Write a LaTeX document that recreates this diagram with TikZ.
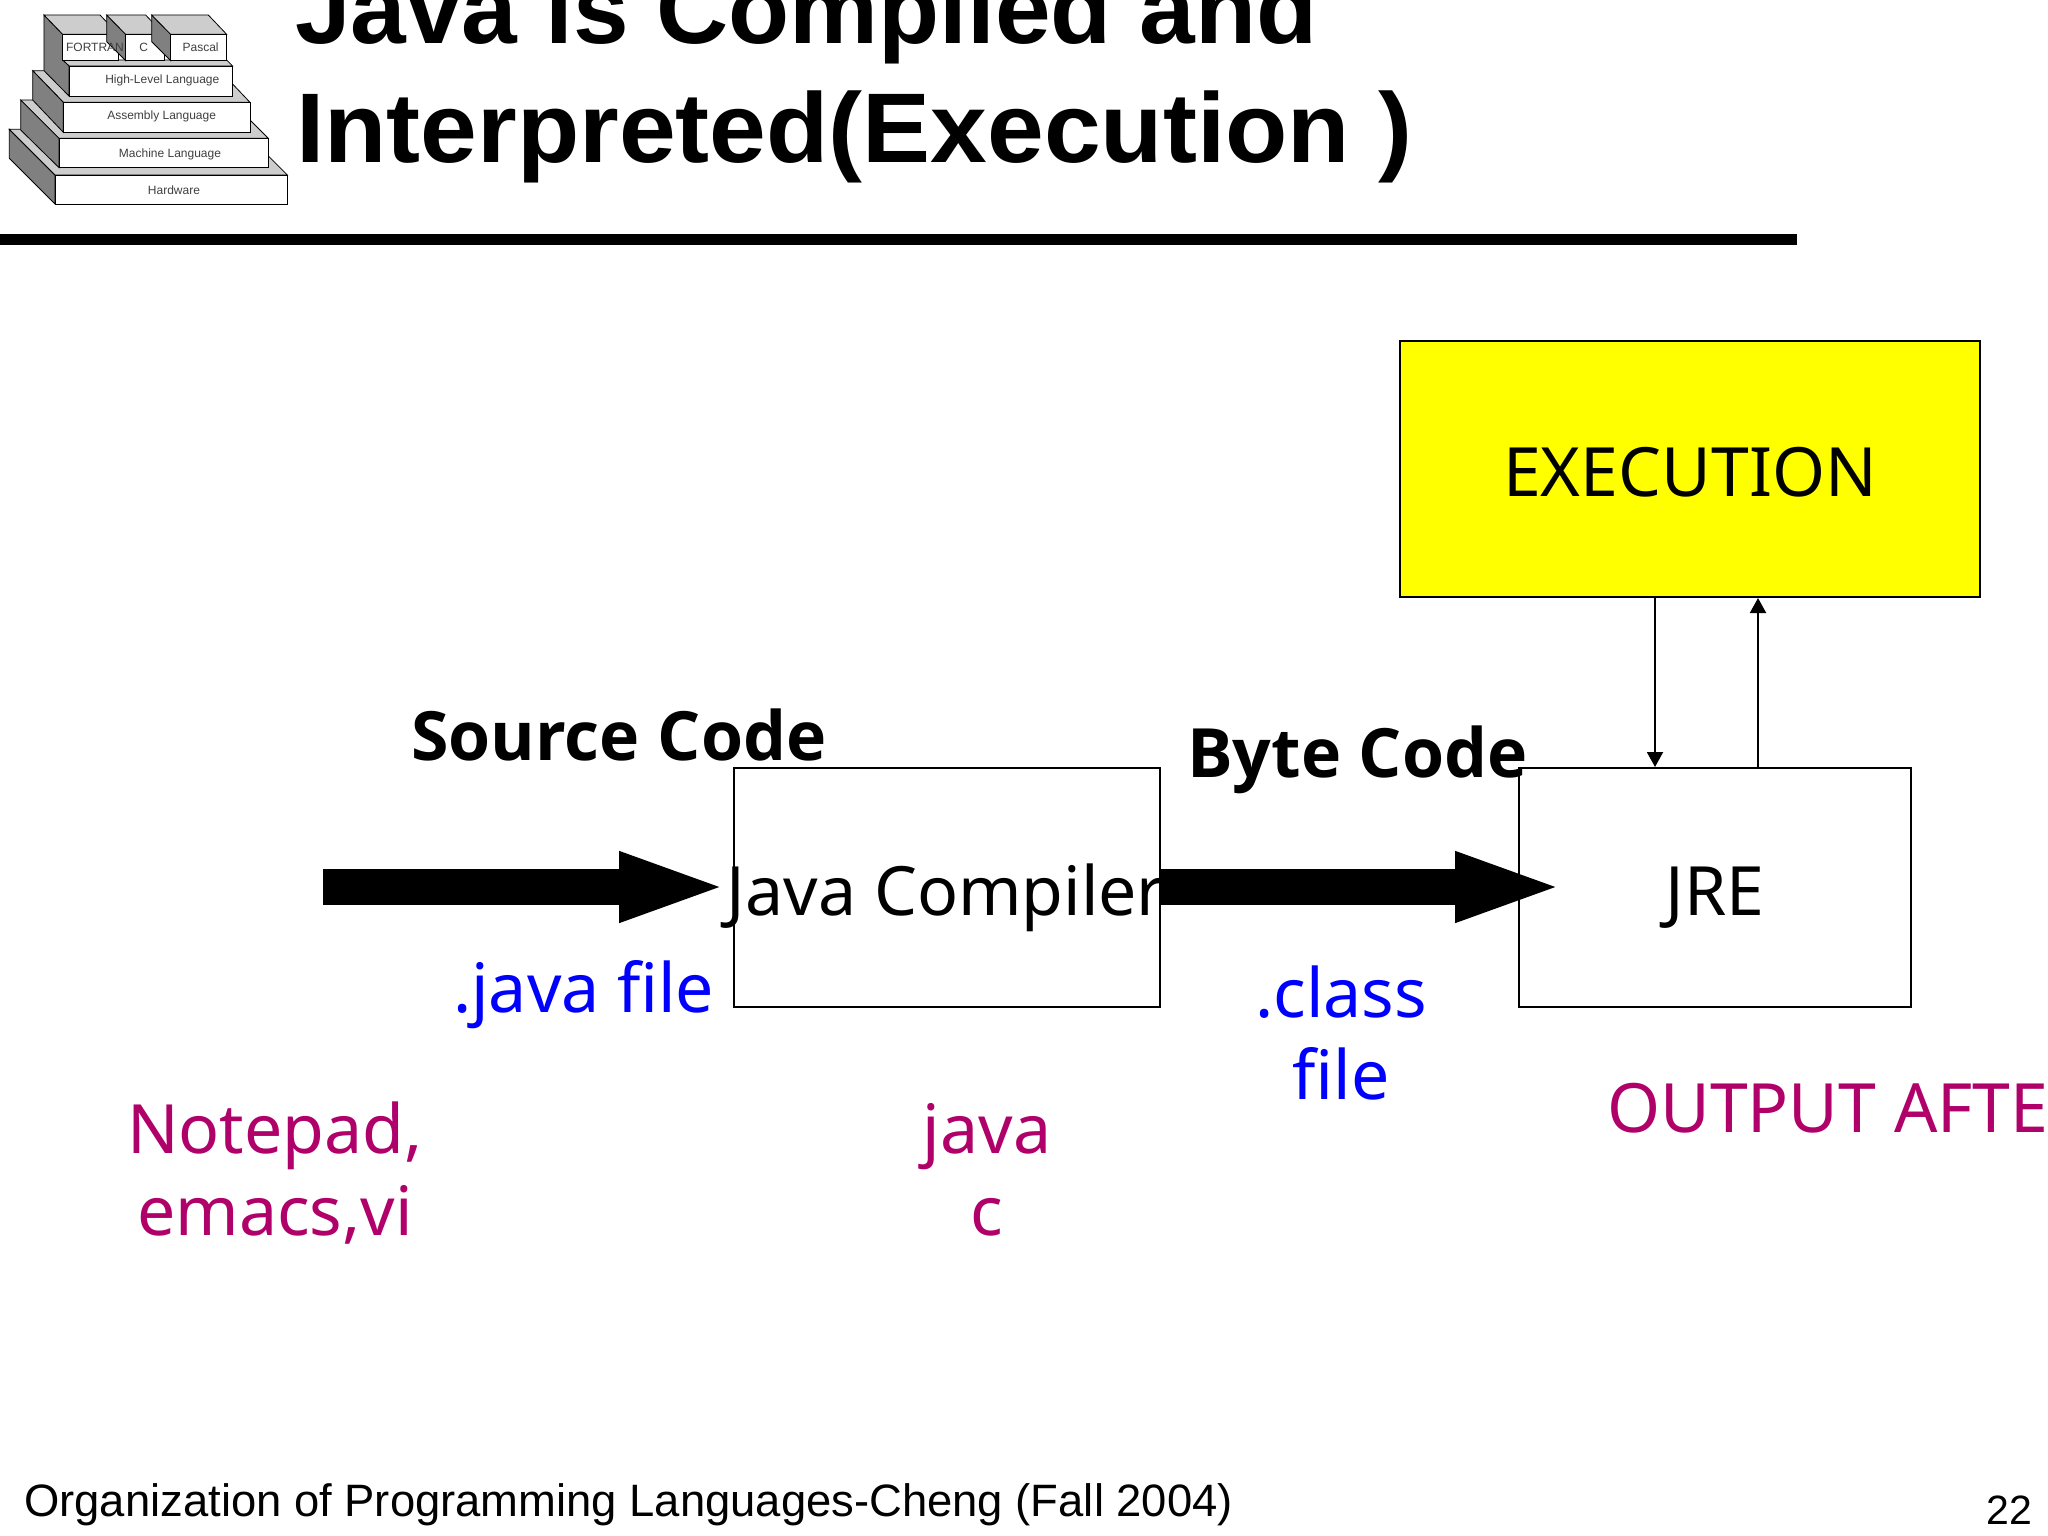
\documentclass[tikz,border=0pt]{standalone}
\usepackage{fontspec}
\setmainfont{Noto Sans}
\newfontfamily\arialf{Liberation Sans}
\newfontfamily\titlea{Liberation Sans}[FakeStretch=1.01]
\newfontfamily\titleb{Liberation Sans}[FakeStretch=1.03]
\newfontfamily\opensf{Open Sans}
\usetikzlibrary{arrows.meta,calc}
\definecolor{plum}{RGB}{176,0,106}
\definecolor{sidegray}{RGB}{128,128,128}
\definecolor{topgray}{RGB}{205,205,205}
\definecolor{pureyellow}{RGB}{255,255,0}
\definecolor{pureblue}{RGB}{0,0,255}
\tikzset{
  bigtxt/.style={font=\fontsize{68}{82}\selectfont,inner sep=0pt,align=center},
  boxtxt/.style={font=\fontsize{68}{82}\selectfont,inner sep=0pt,anchor=base},
  boldtxt/.style={font=\opensf\bfseries\fontsize{68}{82}\selectfont,inner sep=0pt,anchor=base west},
  plumtxt/.style={bigtxt,text=plum},
  bluetxt/.style={bigtxt,text=pureblue},
  titletxt/.style={inner sep=0pt,anchor=base west},
  foot/.style={font=\arialf\fontsize{45.4}{54}\selectfont,inner sep=0pt,anchor=base west},
  pagenum/.style={font=\arialf\fontsize{41}{48}\selectfont,inner sep=0pt,anchor=base west},
  box/.style={draw=black,line width=2pt,fill=white,inner sep=0pt,minimum width=#1},
  fatarrow/.style={line width=36pt,-{Triangle[length=111pt,width=62pt]}},
  thin arrow/.style={line width=2pt,-{Triangle[length=15pt,width=16pt]}},
  side/.style={draw=black,line width=.8pt,fill=sidegray},
  topf/.style={draw=black,line width=.8pt,fill=topgray},
  front/.style={draw=black,line width=.8pt,fill=white},
  ic/.style={font=\arialf\fontsize{12}{13}\selectfont,inner sep=0pt,text=black!75},
}
\begin{document}
\begin{tikzpicture}[x=1pt,y=-1pt]
\useasboundingbox (0,0) rectangle (2048,1536);
\clip (0,0) rectangle (2048,1536);
\fill[white] (0,0) rectangle (2048,1536);

% pyramid icon
\begin{scope}[x=0.3333pt,y=-0.3333pt]
\draw[side] (28,388) -- (165,525) -- (165,612) -- (28,475) -- cycle;
\draw[topf] (28,388) -- (725,388) -- (862,525) -- (165,525) -- cycle;
\draw[front] (165,525) rectangle (862,612);
\draw[topf] (62,300) -- (690,300) -- (805,415) -- (177,415) -- cycle;
\draw[side] (62,300) -- (177,415) -- (177,503) -- (62,390) -- cycle;
\draw[front] (177,415) rectangle (805,503);
\draw[topf] (98,212) -- (660,212) -- (750,307) -- (190,307) -- cycle;
\draw[side] (98,212) -- (190,307) -- (190,397) -- (98,300) -- cycle;
\draw[front] (190,307) rectangle (750,397);
\draw[topf] (188,180) -- (680,180) -- (698,198) -- (207,198) -- cycle;
\draw[side] (132,45) -- (188,103) -- (188,180) -- (207,198) -- (207,288) -- (132,212) -- cycle;
\draw[front] (207,198) rectangle (698,288);
\draw[topf] (132,45) -- (300,45) -- (355,103) -- (188,103) -- cycle;
\draw[front] (188,103) rectangle (355,180);
\draw[side] (320,45) -- (377,103) -- (377,182) -- (320,125) -- cycle;
\draw[topf] (320,45) -- (437,45) -- (492,103) -- (377,103) -- cycle;
\draw[front] (377,103) rectangle (492,182);
\draw[side] (455,45) -- (512,103) -- (512,182) -- (455,125) -- cycle;
\draw[topf] (455,45) -- (625,45) -- (680,103) -- (512,103) -- cycle;
\draw[front] (512,103) rectangle (680,182);
\node[ic] (i1) at (285,143) {FORTRAN};
\node[ic] (i2) at (431,143) {C};
\node[ic] (i3) at (602,143) {Pascal};
\node[ic] (i4) at (487,241) {High-Level Language};
\node[ic] (i5) at (485,350) {Assembly Language};
\node[ic] (i6) at (510,462) {Machine Language};
\node[ic] (i7) at (522,572) {Hardware};
\end{scope}

% title
\node[titletxt,font=\titlea\bfseries\fontsize{99}{120}\selectfont] (t1) at (295,44) {Java is Compiled and};
\node[titletxt,font=\titleb\bfseries\fontsize{99}{120}\selectfont] (t2) at (296,163) {Interpreted(Execution )};
\fill[black] (0,234) rectangle (1797,245);

% boxes
\node[box=580pt,minimum height=256pt,fill=pureyellow] (exec) at (1689.5,469) {};
\node[box=426pt,minimum height=239pt] (comp) at (947,887.5) {};
\node[box=392pt,minimum height=239pt] (jre) at (1715,887.5) {};
\node[boxtxt] (exectxt) at (1690,496) {EXECUTION};
\node[boxtxt] (comptxt) at (946,915) {Java Compiler};
\node[boxtxt] (jretxt) at (1715,915) {JRE};

% thick arrows
\coordinate (src) at (323,887);
\coordinate (srcend) at (730,887);
\coordinate (byteend) at (1566,887);
\draw[fatarrow] (src) -- (srcend);
\draw[fatarrow] (comp.east |- src) -- (byteend);

% thin arrows
\coordinate (dn) at (1655,600);
\coordinate (up) at (1758,600);
\draw[thin arrow] (dn |- exec.south) -- (dn |- jre.north);
\draw[thin arrow] (up |- jre.north) -- (up |- exec.south);

% labels
\node[boldtxt] (sc) at (411,760) {Source Code};
\node[boldtxt] (bc) at (1187,777) {Byte Code};
\node[bluetxt,anchor=base west] (jf) at (453,1012) {.java file};
\node[bluetxt] (cf) at (1341,1033) {.class\\file};
\node[plumtxt] (np) at (275,1173) {Notepad,\\emacs,vi};
\node[plumtxt] (jc) at (987,1170) {java\\c};
\node[plumtxt,anchor=base west] (oa) at (1607,1132) {OUTPUT AFTE};

% footer
\node[foot] (ft) at (24,1516) {Organization of Programming Languages-Cheng (Fall 2004)};
\node[pagenum] (pg) at (1986,1524) {22};
\end{tikzpicture}
\end{document}
